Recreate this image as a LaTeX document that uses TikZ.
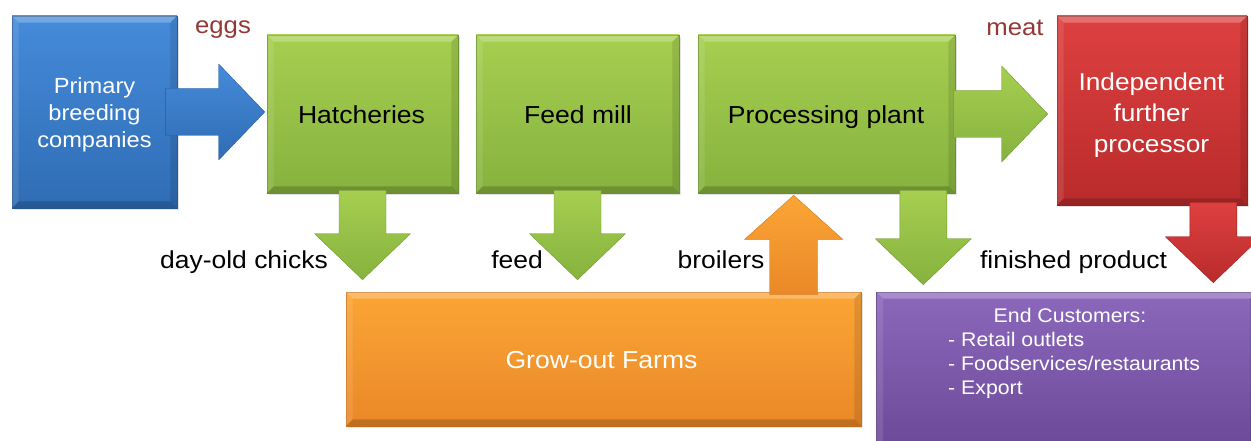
\documentclass[tikz,border=0pt]{standalone}
\usepackage{fontspec}
\setmainfont[FakeStretch=1.08]{Liberation Sans}
\usetikzlibrary{calc,shadows}
\definecolor{bl1}{HTML}{458BDA}
\definecolor{bl2}{HTML}{2F6CB4}
\definecolor{bl3}{HTML}{285C9A}
\definecolor{gr1}{HTML}{A6CF50}
\definecolor{gr2}{HTML}{86B23E}
\definecolor{gr3}{HTML}{6E9832}
\definecolor{rd1}{HTML}{DE4040}
\definecolor{rd2}{HTML}{B92B2B}
\definecolor{rd3}{HTML}{9E2222}
\definecolor{or1}{HTML}{FBA535}
\definecolor{or2}{HTML}{EA8828}
\definecolor{or3}{HTML}{D07820}
\definecolor{pu1}{HTML}{8C68BC}
\definecolor{pu2}{HTML}{6C4997}
\definecolor{pu3}{HTML}{5E3F86}
\definecolor{lbred}{HTML}{953735}
\newcommand\blkright[3]{%
  \path[#3] ($(#1)+(0,-23.5)$) -- ($(#2)+(-46,-23.5)$) -- ($(#2)+(-46,-48)$) -- (#2)
    -- ($(#2)+(-46,48)$) -- ($(#2)+(-46,23.5)$) -- ($(#1)+(0,23.5)$) -- cycle;}
\newcommand\blkdown[3]{%
  \path[#3] ($(#1)+(-23.5,0)$) -- ($(#2)+(-23.5,-46)$) -- ($(#2)+(-48,-46)$) -- (#2)
    -- ($(#2)+(48,-46)$) -- ($(#2)+(23.5,-46)$) -- ($(#1)+(23.5,0)$) -- cycle;}
\newcommand\blkup[3]{%
  \path[#3] ($(#1)+(-24,0)$) -- ($(#2)+(-24,44)$) -- ($(#2)+(-49,44)$) -- (#2)
    -- ($(#2)+(49,44)$) -- ($(#2)+(24,44)$) -- ($(#1)+(24,0)$) -- cycle;}
\newcommand\bevel[1]{%
  \fill[white,opacity=0.25] (#1.north west) -- (#1.north east) -- ($(#1.north east)+(-7,7)$)
    -- ($(#1.north west)+(7,7)$) -- cycle;
  \fill[white,opacity=0.10] (#1.north west) -- ($(#1.north west)+(7,7)$)
    -- ($(#1.south west)+(7,-7)$) -- (#1.south west) -- cycle;
  \fill[black,opacity=0.10] (#1.north east) -- (#1.south east) -- ($(#1.south east)+(-7,-7)$)
    -- ($(#1.north east)+(-7,7)$) -- cycle;
  \fill[black,opacity=0.18] (#1.south west) -- (#1.south east) -- ($(#1.south east)+(-7,-7)$)
    -- ($(#1.south west)+(7,-7)$) -- cycle;}
\begin{document}
\begin{tikzpicture}[x=1pt,y=-1pt,
  base/.style={rectangle, inner sep=0pt, line width=0.6pt,
    drop shadow={opacity=0.22,shadow xshift=1.5pt,shadow yshift=-2pt}},
  bluebox/.style={base, top color=bl1, bottom color=bl2, draw=bl3},
  greenbox/.style={base, top color=gr1, bottom color=gr2, draw=gr3},
  redbox/.style={base, top color=rd1, bottom color=rd2, draw=rd3},
  orangebox/.style={base, top color=or1, bottom color=or2, draw=or3},
  purplebox/.style={base, top color=pu1, bottom color=pu2, draw=pu3},
  boxtext/.style={anchor=base, inner sep=0pt, font=\fontsize{24.6}{30}\selectfont},
  bluetext/.style={anchor=base, inner sep=0pt, text=white, font=\fontsize{21.9}{27}\selectfont},
  redtext/.style={anchor=base, inner sep=0pt, text=white, font=\fontsize{24.3}{31}\selectfont},
  custtext/.style={inner sep=0pt, text=white, font=\fontsize{19.7}{24}\selectfont},
  lbl/.style={anchor=base, text=black, inner sep=0pt, font=\fontsize{24.5}{30}\selectfont},
  flowlbl/.style={anchor=base, text=lbred, inner sep=0pt, font=\fontsize{23.8}{30}\selectfont},
  bluearrow/.style={top color=bl1, bottom color=bl2, draw=bl3, line width=0.4pt},
  greenarrow/.style={top color=gr1, bottom color=gr2, draw=gr3, line width=0.4pt},
  redarrow/.style={top color=rd1, bottom color=rd2, draw=rd3, line width=0.4pt},
  orangearrow/.style={top color=or1, bottom color=or2, draw=or3, line width=0.4pt}]
\useasboundingbox (0,0) rectangle (1251,441);
\clip (0,0) rectangle (1251,441);
\fill[white] (0,0) rectangle (1251,441);

% boxes
\node[bluebox, minimum width=165, minimum height=192] (blue) at (94.5,112) {};
\node[greenbox, minimum width=191, minimum height=158] (hatch) at (362.5,114) {};
\node[greenbox, minimum width=203, minimum height=158] (feed) at (577.5,114) {};
\node[greenbox, minimum width=257, minimum height=158] (proc) at (826.5,114) {};
\node[redbox, minimum width=190, minimum height=189] (red) at (1152,110.5) {};
\node[orangebox, minimum width=515, minimum height=134] (grow) at (603.5,359) {};
\node[purplebox, minimum width=380, minimum height=160] (cust) at (1066.5,372) {};
\bevel{blue}\bevel{hatch}\bevel{feed}\bevel{proc}\bevel{red}\bevel{grow}\bevel{cust}

% box texts
\node[bluetext] (tblue) at (94.5,94) {\begin{tabular}[t]{@{}c@{}}Primary\\breeding\\companies\end{tabular}};
\node[boxtext] (thatch) at (361.5,124) {Hatcheries};
\node[boxtext] (tfeed) at (578,124) {Feed mill};
\node[boxtext] (tproc) at (826,124) {Processing plant};
\node[redtext] (tred) at (1151.5,91) {\begin{tabular}[t]{@{}c@{}}Independent\\further\\processor\end{tabular}};
\node[boxtext, text=white] (tgrow) at (601.5,368) {Grow-out Farms};
\node[custtext, anchor=base] (thead) at (1070,322) {End Customers:};
\node[custtext, anchor=base west] (tlist) at (948,346) {\begin{tabular}[t]{@{}l@{}}
  - Retail outlets\\
  - Foodservices/restaurants\\
  - Export
\end{tabular}};

% block arrows
\coordinate (a1s) at ($(blue.east)+(-12,0)$);
\coordinate (a1t) at ($(hatch.west |- blue.east)+(-2,0)$);
\blkright{a1s}{a1t}{bluearrow}

\coordinate (a2s) at ($(proc.east)+(-2,0)$);
\coordinate (a2t) at ($(red.west |- proc.east)+(-9,0)$);
\blkright{a2s}{a2t}{greenarrow}

\coordinate (a3s) at ($(hatch.south)+(0,-3)$);
\coordinate (a3t) at ($(hatch.south |- grow.north)+(0,-12)$);
\blkdown{a3s}{a3t}{greenarrow}

\coordinate (a4s) at ($(feed.south)+(0,-3)$);
\coordinate (a4t) at ($(feed.south |- grow.north)+(0,-12)$);
\blkdown{a4s}{a4t}{greenarrow}

\coordinate (a5s) at ($(proc.south east)+(-32,-3)$);
\coordinate (a5t) at ($(a5s |- cust.north)+(0,-7)$);
\blkdown{a5s}{a5t}{greenarrow}

\coordinate (a6s) at ($(grow.north west)+(448,3)$);
\coordinate (a6t) at ($(a6s |- proc.south)+(0,2)$);
\blkup{a6s}{a6t}{orangearrow}

\coordinate (a7s) at ($(red.south east)+(-34,-3)$);
\coordinate (a7t) at ($(a7s |- cust.north)+(0,-9)$);
\blkdown{a7s}{a7t}{redarrow}

% labels
\node[flowlbl] (eggs) at (223,34) {eggs};
\node[flowlbl] (meat) at (1015,36) {meat};
\node[lbl] (lchicks) at (244,268) {day-old chicks};
\node[lbl] (lfeed) at (517,268) {feed};
\node[lbl] (lbroil) at (721,268) {broilers};
\node[lbl] (lfin) at (1073.5,268) {finished product};
\end{tikzpicture}
\end{document}
